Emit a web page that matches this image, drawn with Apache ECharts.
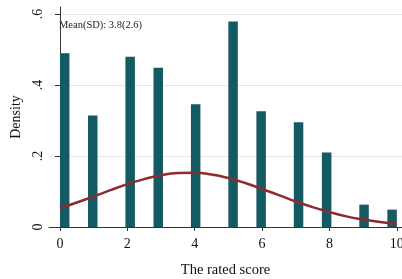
<!DOCTYPE html>
<html>
<head>
<meta charset="utf-8">
<script src="https://cdn.jsdelivr.net/npm/echarts@6/dist/echarts.min.js"></script>
<style>html,body{margin:0;padding:0;background:#fff;}#c{width:402px;height:279px;}</style>
</head>
<body>
<div id="c"></div>
<script>
// Histogram bin centers (bin width 10/36) and densities
var binCenters = [0.139, 0.972, 2.083, 2.917, 4.028, 5.139, 5.972, 7.083, 7.917, 9.028, 9.861];
var densities  = [0.490, 0.314, 0.480, 0.449, 0.346, 0.579, 0.326, 0.295, 0.210, 0.063, 0.049];
// Normal density curve
var curveX = [0, 0.5, 1, 1.5, 2, 2.5, 3, 3.5, 4, 4.5, 5, 5.5, 6, 6.5, 7, 7.5, 8, 8.5, 9, 9.5, 10];
var curveY = [0.053, 0.069, 0.086, 0.104, 0.121, 0.135, 0.146, 0.152, 0.153, 0.148, 0.138, 0.124, 0.107, 0.090, 0.072, 0.056, 0.042, 0.030, 0.021, 0.014, 0.009];
var xTicks = [0, 2, 4, 6, 8, 10];
var yTicks = [0, 0.2, 0.4, 0.6];
var yTickLabels = ['0', '.2', '.4', '.6'];
var meanText = 'Mean(SD): 3.8(2.6)';

var font = 'Liberation Serif';
var chart = echarts.init(document.getElementById('c'));
chart.setOption({
  animation: false,
  backgroundColor: '#fff',
  grid: {left: 49, right: 0, top: 7, bottom: 52, containLabel: false, outerBoundsMode: 'none'},
  xAxis: {
    type: 'value', min: -0.327, max: 10.155,
    name: 'The rated score', nameLocation: 'middle', nameGap: 36,
    nameTextStyle: {fontFamily: font, fontSize: 14.5, color: '#111'},
    axisLine: {show: true, onZero: false, lineStyle: {color: '#333', width: 1}},
    axisTick: {show: true, length: 4, customValues: xTicks, lineStyle: {color: '#333'}},
    axisLabel: {customValues: xTicks, fontFamily: font, fontSize: 14, color: '#111', margin: 10},
    splitLine: {show: false}
  },
  yAxis: {
    type: 'value', min: 0, max: 0.62,
    name: 'Density', nameLocation: 'middle', nameGap: 23, nameRotate: 90,
    nameTextStyle: {fontFamily: font, fontSize: 14, color: '#111'},
    axisLine: {show: true, lineStyle: {color: '#333', width: 1}},
    axisTick: {show: true, length: 5, customValues: yTicks, lineStyle: {color: '#333'}},
    axisLabel: {customValues: yTicks, rotate: 90, fontFamily: font, fontSize: 14, color: '#111', margin: 4,
      formatter: function (v) {
        for (var i = 0; i < yTicks.length; i++) if (Math.abs(v - yTicks[i]) < 1e-6) return yTickLabels[i];
        return '';
      }},
    splitLine: {show: false}
  },
  series: [
    {
      type: 'bar', barWidth: 9.5,
      data: binCenters.map(function (x, i) { return [x, densities[i]]; }),
      itemStyle: {color: '#135a62'},
      markLine: {
        silent: true, symbol: 'none', label: {show: false},
        lineStyle: {color: '#e6e6e6', type: 'solid', width: 1},
        data: yTicks.slice(1).map(function (v) { return {yAxis: v}; }),
        z: 0
      },
      z: 2
    },
    {
      type: 'line', smooth: true, symbol: 'none',
      data: curveX.map(function (x, i) { return [x, curveY[i]]; }),
      lineStyle: {color: '#8e2b30', width: 2.5},
      z: 3
    }
  ],
  graphic: [{
    type: 'text', left: 59, top: 20,
    style: {text: meanText, fontFamily: font, fontSize: 10.5, fill: '#222'}
  }]
});
</script>
</body>
</html>
